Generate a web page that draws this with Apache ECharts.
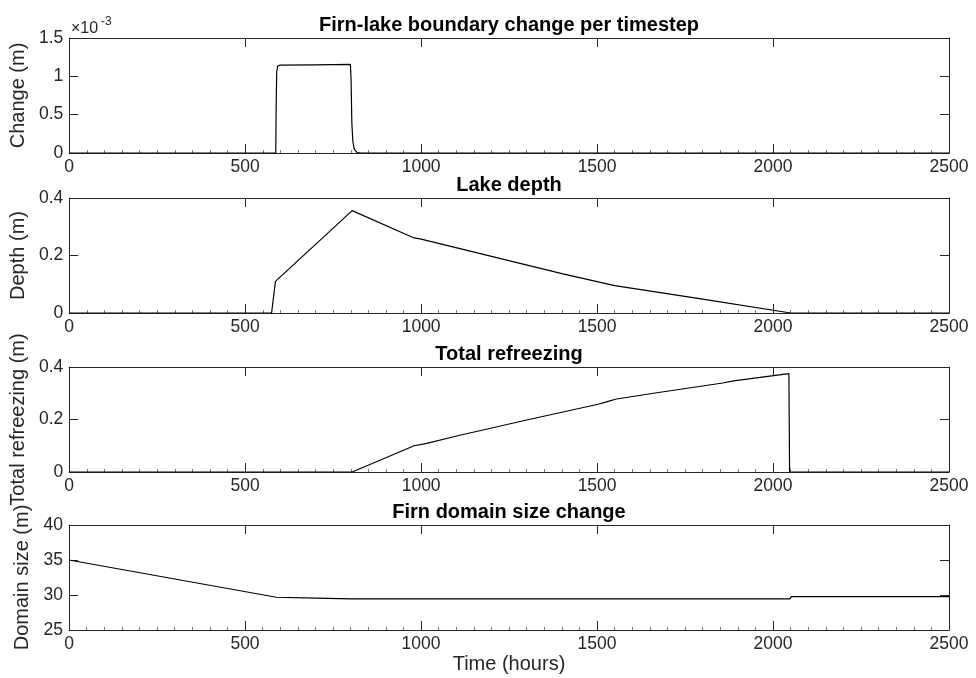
<!DOCTYPE html>
<html>
<head>
<meta charset="utf-8">
<script src="https://cdn.jsdelivr.net/npm/echarts@6/dist/echarts.min.js"></script>
<style>
  html, body { margin: 0; padding: 0; background: #fff; }
  #chart { width: 976px; height: 678px; }
</style>
</head>
<body>
<div id="chart"></div>
<script>
// Simulation output: firn/lake model, time in hours
const xTicks = [0, 500, 1000, 1500, 2000, 2500];

// Firn-lake boundary change per timestep (m)
const boundaryChange = [
  [0, 0], [587, 0], [588, 0.0006], [589.5, 0.00105], [592, 0.00113], [598, 0.001145],
  [700, 0.00115], [799, 0.001155], [801, 0.00095], [803, 0.0004], [806, 0.00015],
  [810, 0.00005], [818, 0.000005], [830, 0], [2500, 0]
];

// Lake depth (m)
const lakeDepth = [
  [0, 0], [575, 0], [586, 0.11], [804, 0.356], [980, 0.261], [1000, 0.257],
  [1200, 0.197], [1400, 0.137], [1550, 0.095], [1800, 0.048], [2050, 0], [2500, 0]
];

// Total refreezing (m)
const totalRefreezing = [
  [0, 0], [804, 0], [980, 0.100], [1013, 0.108], [1107, 0.139], [1300, 0.198],
  [1503, 0.258], [1524, 0.266], [1555, 0.278], [1670, 0.302], [1857, 0.339],
  [1888, 0.347], [2045, 0.375], [2047, 0], [2500, 0]
];

// Firn domain size (m)
const domainSize = [
  [0, 35], [589, 29.68], [700, 29.55], [804, 29.45], [2048, 29.45],
  [2052, 29.76], [2500, 29.76]
];

const titles = ['Firn-lake boundary change per timestep', 'Lake depth', 'Total refreezing', 'Firn domain size change'];
const yNames = ['Change (m)', 'Depth (m)', 'Total refreezing (m)', 'Domain size (m)'];
const yRanges = [[0, 0.0015, 0.0005], [0, 0.4, 0.2], [0, 0.4, 0.2], [25, 40, 5]];
const seriesData = [boundaryChange, lakeDepth, totalRefreezing, domainSize];

const FONT = '"Liberation Sans", Arial, Helvetica, sans-serif';
const AX = '#262626';
const grids = [
  { top: 38, height: 115 },
  { top: 198, height: 115 },
  { top: 367, height: 105 },
  { top: 525, height: 105 }
];

const chart = echarts.init(document.getElementById('chart'), null, { renderer: 'canvas' });

const option = {
  animation: false,
  backgroundColor: '#fff',
  title: [],
  grid: [],
  xAxis: [],
  yAxis: [],
  series: [],
  graphic: [
    { type: 'text', left: 71, top: 21, style: { text: '×10', font: '16px ' + FONT, fill: AX } },
    { type: 'text', left: 101, top: 16, style: { text: '-3', font: '12px ' + FONT, fill: AX } }
  ]
};

grids.forEach((g, i) => {
  option.grid.push({ left: 69, right: 27, top: g.top, height: g.height, show: false });
  option.title.push({
    text: titles[i], left: 504, top: g.top - 28, textAlign: 'center',
    textStyle: { fontFamily: FONT, fontWeight: 'bold', fontSize: 20, color: '#000' }
  });
  const xBase = {
    type: 'value', gridIndex: i, min: 0, max: 2500, interval: 500,
    axisLine: { show: true, onZero: false, lineStyle: { color: AX, width: 1 } },
    axisTick: { show: true, inside: true, length: 9, lineStyle: { color: AX } },
    splitLine: { show: false }
  };
  option.xAxis.push(Object.assign({}, xBase, {
    position: 'bottom',
    minorTick: { show: true, splitNumber: 10, length: 3, lineStyle: { color: '#7a7a7a' } },
    axisLabel: { show: true, margin: 5, fontFamily: FONT, fontSize: 17.5, color: AX,
      formatter: v => (xTicks.indexOf(v) >= 0 ? String(v) : '') },
    name: i === 3 ? 'Time (hours)' : '',
    nameLocation: 'middle', nameGap: 24,
    nameTextStyle: { fontFamily: FONT, fontSize: 20, color: AX }
  }));
  option.xAxis.push(Object.assign({}, xBase, {
    position: 'top', axisLabel: { show: false }
  }));
  const r = yRanges[i];
  const yBase = {
    type: 'value', gridIndex: i, min: r[0], max: r[1], interval: r[2],
    axisLine: { show: true, onZero: false, lineStyle: { color: AX, width: 1 } },
    axisTick: { show: true, inside: true, length: 9, lineStyle: { color: AX } },
    splitLine: { show: false }
  };
  option.yAxis.push(Object.assign({}, yBase, {
    position: 'left',
    axisLabel: { show: true, margin: 6, fontFamily: FONT, fontSize: 17.5, color: AX,
      formatter: i === 0 ? (v => String(parseFloat((v * 1000).toFixed(3)))) : (v => String(parseFloat(v.toFixed(3)))) },
    name: yNames[i], nameLocation: 'middle', nameGap: 27,
    nameTextStyle: { fontFamily: FONT, fontSize: 20, color: AX }
  }));
  option.yAxis.push(Object.assign({}, yBase, {
    position: 'right', axisLabel: { show: false }
  }));
  option.series.push({
    type: 'line', xAxisIndex: 2 * i, yAxisIndex: 2 * i,
    data: seriesData[i], showSymbol: false, symbol: 'none',
    lineStyle: { color: '#000', width: 1.2 }, silent: true
  });
});

chart.setOption(option);
</script>
</body>
</html>
